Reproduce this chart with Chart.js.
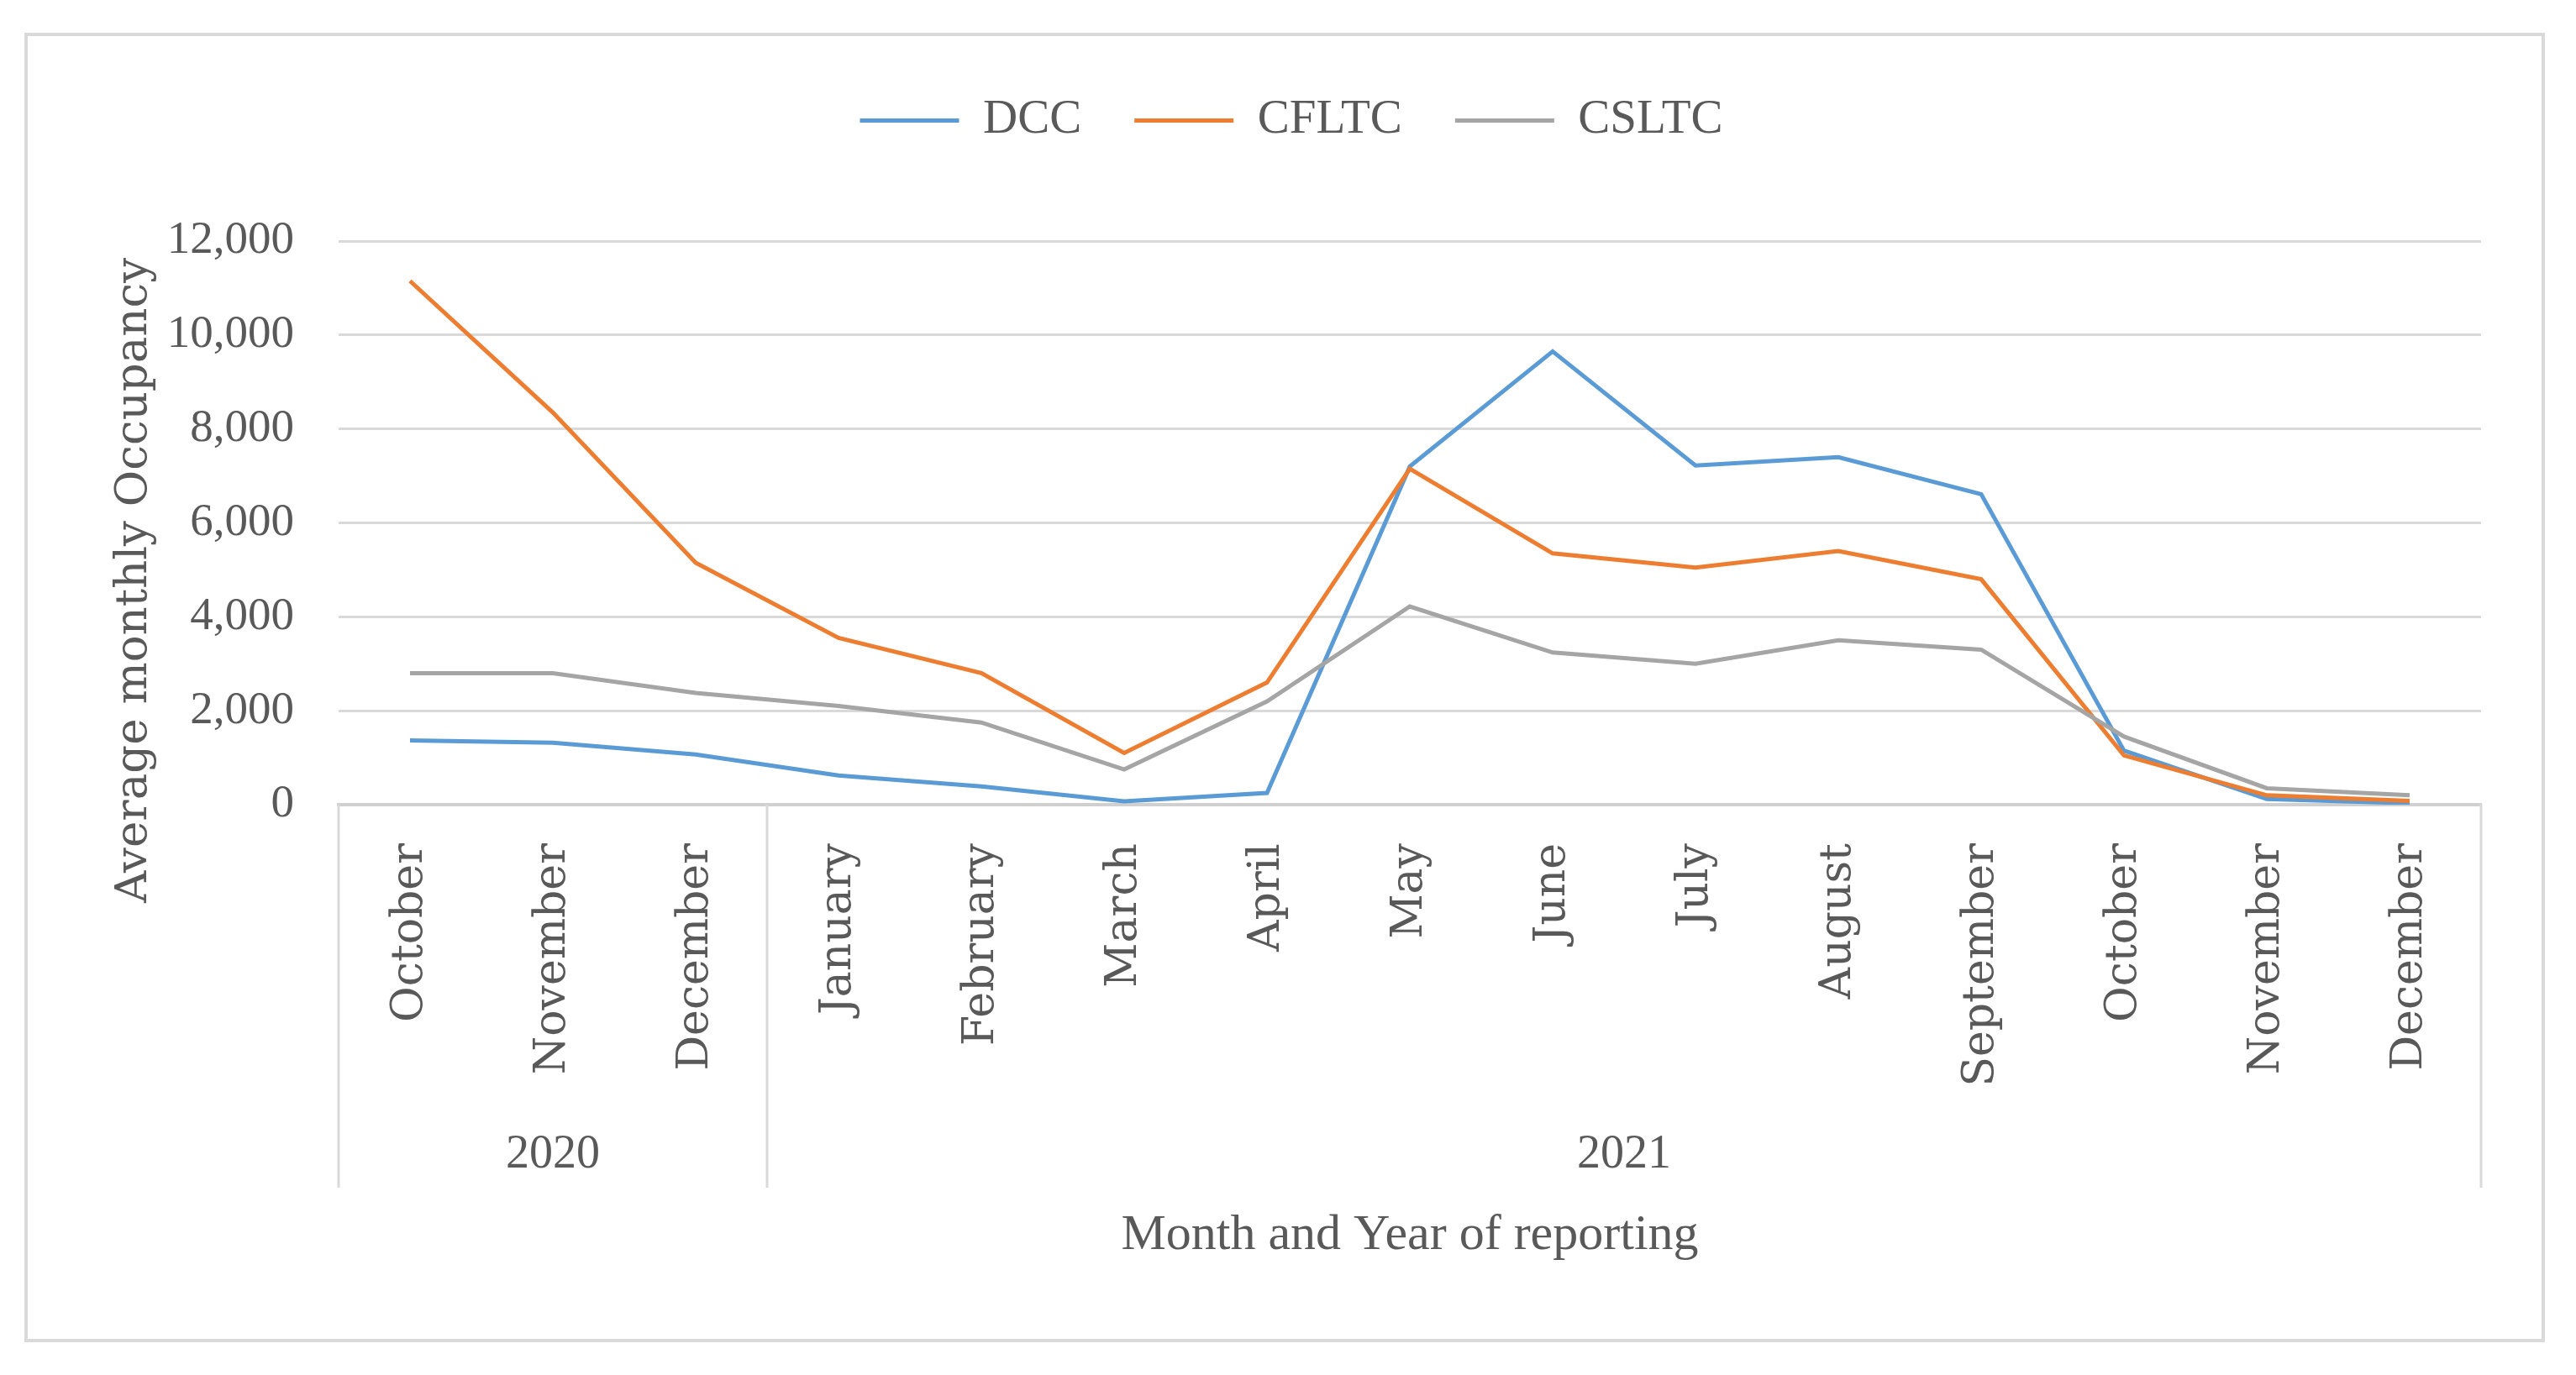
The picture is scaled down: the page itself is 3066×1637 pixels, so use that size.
<!DOCTYPE html>
<html>
<head>
<meta charset="utf-8">
<script src="https://cdn.jsdelivr.net/npm/chart.js@4.4.1/dist/chart.umd.min.js"></script>
<style>
  html, body { margin: 0; padding: 0; background: #fff; }
  #wrap { width: 3066px; height: 1637px; position: relative; }
</style>
</head>
<body>
<div id="wrap"><canvas id="chart"></canvas></div>
<script>
// categories (month, grouped by year)
const months = ['October', 'November', 'December', 'January', 'February', 'March', 'April',
  'May', 'June', 'July', 'August', 'September', 'October', 'November', 'December'];
const years = ['2020', '2021'];
const yearSpans = [3, 12];

// average monthly occupancy per series
const dcc   = [1370, 1320, 1070, 620, 390, 70, 250, 7200, 9650, 7220, 7400, 6610, 1150, 120, 30];
const cfltc = [11150, 8350, 5150, 3550, 2800, 1100, 2600, 7150, 5350, 5050, 5400, 4800, 1050, 200, 80];
const csltc = [2800, 2800, 2380, 2100, 1750, 750, 2200, 4220, 3240, 3000, 3500, 3300, 1450, 350, 200];

const yTicks = [0, 2000, 4000, 6000, 8000, 10000, 12000];

const textColor = '#595959';
const gridColor = '#D9D9D9';

// white background + outer frame
const framePlugin = {
  id: 'frame',
  beforeDraw(chart) {
    const ctx = chart.ctx;
    ctx.save();
    ctx.fillStyle = '#fff';
    ctx.fillRect(0, 0, chart.width, chart.height);
    ctx.strokeStyle = gridColor;
    ctx.lineWidth = 4;
    ctx.strokeRect(31, 41, 2996, 1555);
    ctx.restore();
  }
};

// extra room under the legend
const legendSpacer = {
  id: 'legendSpacer',
  beforeInit(chart) {
    const fit = chart.legend.fit;
    chart.legend.fit = function () {
      fit.bind(chart.legend)();
      this.height += 105;
    };
  }
};

// year groups under the month labels, plus y title
const groupPlugin = {
  id: 'groups',
  afterDraw(chart) {
    const ctx = chart.ctx;
    const x = chart.scales.x;
    const half = (x.getPixelForValue(1) - x.getPixelForValue(0)) / 2;
    const top = x.top;
    ctx.save();
    ctx.strokeStyle = gridColor;
    ctx.lineWidth = 3;
    ctx.fillStyle = textColor;
    ctx.font = '56px "Liberation Serif"';
    ctx.textAlign = 'center';
    ctx.textBaseline = 'middle';
    let start = 0;
    const edges = [x.getPixelForValue(0) - half];
    years.forEach((yr, i) => {
      const end = start + yearSpans[i] - 1;
      const left = x.getPixelForValue(start) - half;
      const right = x.getPixelForValue(end) + half;
      edges.push(right);
      ctx.fillText(yr, (left + right) / 2, top + 417);
      start = end + 1;
    });
    edges.forEach(e => {
      ctx.beginPath();
      ctx.moveTo(e, top);
      ctx.lineTo(e, top + 456);
      ctx.stroke();
    });

    ctx.translate(160, 691);
    ctx.rotate(-Math.PI / 2);
    ctx.font = '53px "DejaVu Serif"';
    ctx.fillText('Average monthly Occupancy', 0, 0);
    ctx.restore();
  }
};

new Chart(document.getElementById('chart'), {
  type: 'line',
  data: {
    labels: months,
    datasets: [
      { label: 'DCC', data: dcc, borderColor: '#5B9BD5', backgroundColor: '#5B9BD5', order: 2 },
      { label: 'CFLTC', data: cfltc, borderColor: '#ED7D31', backgroundColor: '#ED7D31', order: 1 },
      { label: 'CSLTC', data: csltc, borderColor: '#A5A5A5', backgroundColor: '#A5A5A5', order: 0 }
    ]
  },
  options: {
    responsive: true,
    maintainAspectRatio: false,
    devicePixelRatio: 1,
    animation: false,
    layout: { padding: { top: 52, left: 121, right: 113, bottom: 0 } },
    elements: {
      line: { borderWidth: 5, tension: 0, fill: false },
      point: { radius: 0 }
    },
    plugins: {
      tooltip: { enabled: false },
      legend: {
        position: 'top',
        labels: {
          font: { family: 'Liberation Serif', size: 57 },
          color: textColor,
          boxWidth: 118,
          boxHeight: 5,
          padding: 63,
          sort: (a, b) => a.datasetIndex - b.datasetIndex,
          generateLabels: (chart) => Chart.defaults.plugins.legend.labels.generateLabels(chart)
            .map(l => Object.assign(l, { lineWidth: 0 }))
        }
      }
    },
    scales: {
      x: {
        offset: true,
        grid: { display: false, offset: true },
        border: { display: true, color: '#D0D0D0', width: 4 },
        ticks: {
          autoSkip: false,
          minRotation: 90,
          maxRotation: 90,
          padding: 38,
          color: textColor,
          font: { family: 'DejaVu Serif', size: 52 }
        },
        title: {
          display: true,
          text: 'Month and Year of reporting',
          color: textColor,
          font: { family: 'Liberation Serif', size: 60 },
          padding: { top: 0, bottom: 130 }
        },
        afterFit(scale) { scale.height = 679; }
      },
      y: {
        min: 0,
        max: 12000,
        afterBuildTicks(scale) { scale.ticks = yTicks.map(v => ({ value: v })); },
        grid: { color: gridColor, lineWidth: 3, drawTicks: false },
        border: { display: false },
        ticks: {
          padding: 53,
          color: textColor,
          font: { family: 'Liberation Serif', size: 55 },
          callback: (v) => Number(v).toLocaleString('en-US')
        },
        afterFit(scale) { scale.width = 282; }
      }
    }
  },
  plugins: [framePlugin, legendSpacer, groupPlugin]
});
</script>
</body>
</html>
